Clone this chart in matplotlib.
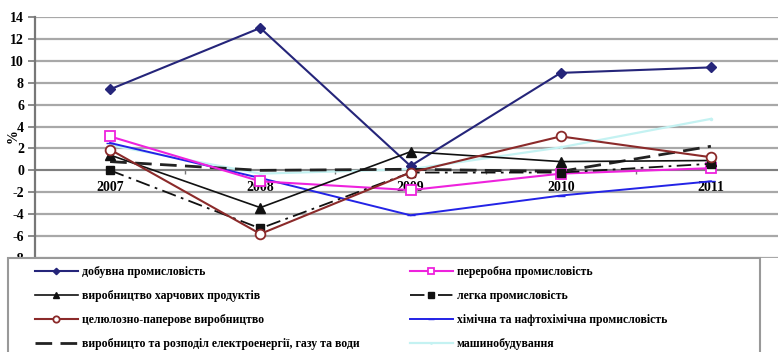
import matplotlib
matplotlib.use("Agg")
import matplotlib.pyplot as plt
from matplotlib.patches import Rectangle

plt.rcParams['font.family'] = ['Liberation Serif', 'DejaVu Serif']
plt.rcParams['font.weight'] = 'bold'

years = ['2007', '2008', '2009', '2010', '2011']

mining = [7.4, 13.0, 0.4, 8.9, 9.4]
processing = [3.1, -1.0, -1.8, -0.3, 0.2]
food = [1.4, -3.4, 1.7, 0.8, 0.9]
light = [0.0, -5.3, -0.2, -0.2, 0.6]
pulp_paper = [1.9, -5.8, -0.2, 3.1, 1.2]
chemical = [2.5, -0.7, -4.1, -2.3, -1.0]
energy = [0.8, 0.0, 0.1, -0.1, 2.2]
machinery = [2.3, -0.3, 0.1, 2.1, 4.7]

labels = [
    'добувна промисловість',
    'переробна промисловість',
    'виробництво харчових продуктів',
    'легка промисловість',
    'целюлозно-паперове виробництво',
    'хімічна та нафтохімічна промисловість',
    'виробницто та розподіл електроенергії, газу та води',
    'машинобудування',
]

yticks = list(range(-8, 15, 2))

W, H = 778, 352
fig = plt.figure(figsize=(W / 100, H / 100), dpi=100)
ax = fig.add_axes([35 / W, (H - 258) / H, 751 / W, 241 / H])

x = list(range(len(years)))

l_mining, = ax.plot(x, mining, color='#25257a', lw=1.5, marker='D', ms=5,
                    mfc='#25257a', mec='#25257a', zorder=5)
l_proc, = ax.plot(x, processing, color='#ee22dd', lw=1.5, marker='s', ms=7,
                  mfc='white', mec='#ee22dd', mew=1.3, zorder=5)
l_food, = ax.plot(x, food, color='#111111', lw=1.2, marker='^', ms=7,
                  mfc='#111111', mec='#111111', zorder=5)
l_light, = ax.plot(x, light, color='#111111', lw=1.3, ls=(0, (8, 3, 1.5, 3)),
                   marker='s', ms=6, mfc='#111111', mec='#111111', zorder=5)
l_pulp, = ax.plot(x, pulp_paper, color='#8b2a2a', lw=1.5, marker='o', ms=7,
                  mfc='white', mec='#8b2a2a', mew=1.3, zorder=5)
l_chem, = ax.plot(x, chemical, color='#2323e6', lw=1.4, marker='_', ms=6,
                  mec='#2323e6', zorder=4)
l_energy, = ax.plot(x, energy, color='#222222', lw=2.0, ls=(0, (6, 3)),
                    zorder=4)
l_mach, = ax.plot(x, machinery, color='#c4f2f2', lw=1.6, marker='.', ms=3,
                  zorder=3)

ax.set_xlim(-0.5, 4.5)
ax.set_ylim(-8, 14)
ax.set_yticks(yticks)
ax.set_yticklabels([str(v) for v in yticks], fontsize=10, fontweight='bold')
ax.yaxis.grid(True, color='#a8a8a8', lw=1.6)
ax.set_axisbelow(True)

for side in ('top', 'right'):
    ax.spines[side].set_visible(False)
ax.spines['left'].set_color('#777777')
ax.spines['left'].set_linewidth(1.6)
ax.spines['bottom'].set_position(('data', 0))
ax.spines['bottom'].set_color('#777777')
ax.spines['bottom'].set_linewidth(1.2)
ax.tick_params(axis='y', length=5, width=1.2, color='#777777', pad=3)

ax.set_xticks(x)
ax.set_xticklabels(years, fontsize=10, fontweight='bold')
ax.set_xticks([0.5, 1.5, 2.5, 3.5], minor=True)
ax.tick_params(axis='x', which='major', length=0, pad=8)
ax.tick_params(axis='x', which='minor', length=3, width=1, color='#777777')

fig.text(13 / W, 1 - 136 / H, '%', rotation=90, fontsize=10,
         fontweight='bold', ha='center', va='center')

# legend frame
fig.patches.append(Rectangle((8 / W, -0.05), 752 / W, (H - 258) / H + 0.05,
                             transform=fig.transFigure, facecolor='white',
                             edgecolor='#999999', lw=1.5, zorder=0))

left_handles = [l_mining, l_food, l_pulp, l_energy]
left_labels = [labels[0], labels[2], labels[4], labels[6]]
right_handles = [l_proc, l_light, l_chem, l_mach]
right_labels = [labels[1], labels[3], labels[5], labels[7]]

common = dict(loc='upper left', frameon=False, borderpad=0, borderaxespad=0,
              handlelength=3.6, handletextpad=0.35, labelspacing=1.03,
              markerscale=0.65,
              prop={'family': 'Liberation Serif', 'weight': 'bold', 'size': 8.5})
fig.legend(left_handles, left_labels, bbox_to_anchor=(35 / W, 1 - 266 / H), **common)
fig.legend(right_handles, right_labels, bbox_to_anchor=(410 / W, 1 - 266 / H), **common)

fig.savefig('out.png', dpi=100)
